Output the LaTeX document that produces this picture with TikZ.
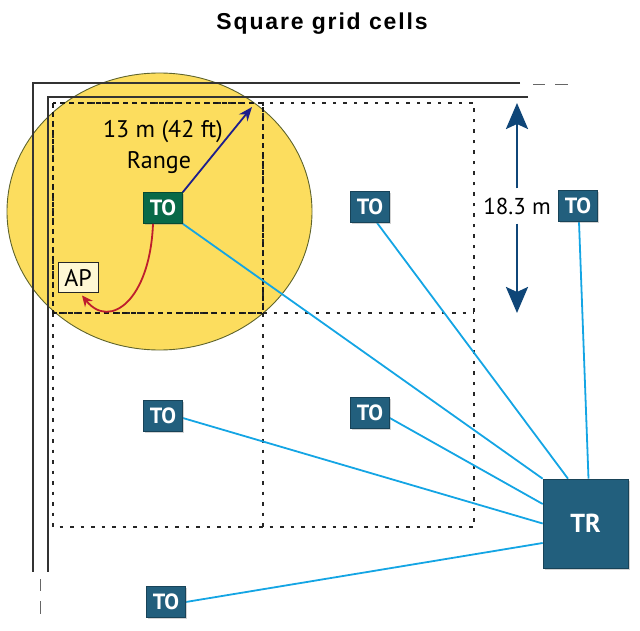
\documentclass[tikz,border=0pt]{standalone}
\usepackage{fontspec}
\setmainfont{PT Sans}
\newfontfamily\titlefont[LetterSpace=8]{Liberation Sans}
\usetikzlibrary{arrows.meta,shadows,calc}
\pgfdeclarelayer{bg}
\pgfsetlayers{bg,main}
\definecolor{cellyellow}{RGB}{252,221,94}
\definecolor{celledge}{RGB}{95,100,45}
\definecolor{togreen}{RGB}{8,105,72}
\definecolor{toblue}{RGB}{34,95,125}
\definecolor{linkblue}{RGB}{20,165,228}
\definecolor{rangeblue}{RGB}{30,30,140}
\definecolor{dimblue}{RGB}{15,70,120}
\definecolor{apred}{RGB}{190,30,45}
\definecolor{apfill}{RGB}{255,248,212}
\begin{document}
\begin{tikzpicture}[x=1pt,y=-1pt,
  wall/.style={line width=1.4pt, draw=black!80},
  griddash/.style={line width=1.3pt, draw=black!85, dash pattern=on 3.5pt off 7pt},
  cellbold/.style={line width=1.8pt, draw=black!90, dash pattern=on 5pt off 4pt},
  boxbase/.style={rectangle, inner sep=0pt, text=white,
    drop shadow={shadow xshift=1.5pt, shadow yshift=-1.5pt, opacity=0.35}},
  tobox/.style={boxbase, fill=toblue, draw=toblue!70!black, line width=0.6pt,
    minimum width=39pt, minimum height=31pt, font=\bfseries\fontsize{22}{22}\selectfont},
  togbox/.style={tobox, fill=togreen, draw=togreen!70!black},
  trbox/.style={boxbase, fill=toblue, draw=toblue!70!black, line width=0.6pt,
    minimum width=85pt, minimum height=89pt, font=\bfseries\fontsize{26}{26}\selectfont},
  apbox/.style={rectangle, inner sep=0pt, fill=apfill, draw=black!85, line width=1pt,
    minimum width=40pt, minimum height=29pt, font=\fontsize{24}{24}\selectfont},
  lbl/.style={inner sep=0pt, font=\fontsize{23}{23}\selectfont},
  link/.style={draw=linkblue, line width=1.8pt},
  rangearrow/.style={draw=rangeblue, line width=1.8pt, -{Stealth[length=14pt,width=11pt]}},
  apparrow/.style={draw=apred, line width=1.8pt, -{Stealth[length=11pt,width=10pt]}},
  dimarrow/.style={draw=dimblue, line width=2.8pt, -{Stealth[length=26pt,width=22pt,inset=5pt]}}
]
\useasboundingbox (0,0) rectangle (640,631);

% title
\node[inner sep=0pt, font=\titlefont\bfseries\fontsize{23}{23}\selectfont] (title) at (322,24) {Square grid cells};

\begin{pgfonlayer}{bg}
% coverage ellipse
\draw[fill=cellyellow, draw=celledge, line width=0.9pt] (159.5,211.5) ellipse [x radius=152.5, y radius=138.5];
% walls
\draw[wall] (520,83) -- (33,83) -- (33,572);
\draw[wall] (528,97) -- (48,97) -- (48,572);
\draw[wall, line width=1pt, draw=black!60] (533,85) -- (545,85) (555,85) -- (568,85);
\draw[wall, line width=1pt, draw=black!60] (40,579) -- (40,591) (40,601) -- (40,614);
% grid cells
\draw[griddash] (53,103) rectangle (474,527);
\draw[griddash] (263,103) -- (263,527);
\draw[griddash] (53,313) -- (474,313);
\draw[cellbold] (53,103) rectangle (263,313);
\end{pgfonlayer}

% nodes
\node[togbox] (toG) at (163,208) {TO};
\node[tobox] (toA) at (370,207) {TO};
\node[tobox] (toB) at (578,206) {TO};
\node[tobox] (toC) at (163,416) {TO};
\node[tobox] (toD) at (370,413) {TO};
\node[tobox] (toE) at (166,602) {TO};
\node[trbox] (TR) at (585.5,523.5) {TR};
\node[apbox] (ap) at (78,277.5) {AP};

% links to TR (behind the boxes)
\begin{pgfonlayer}{bg}
\draw[link] (toG.south east) -- (TR.north west);
\draw[link] ([xshift=7pt]toA.south) -- ([xshift=-17.5pt]TR.north);
\draw[link] ([xshift=1pt]toB.south) -- ([xshift=3pt]TR.north);
\draw[link] ([yshift=-2pt]toC.east) -- (TR.west);
\draw[link] ([yshift=-5pt]toD.east) -- ([yshift=19.5pt]TR.west);
\draw[link] (toE.east) -- ([yshift=-19.5pt]TR.west);
\end{pgfonlayer}

% range arrow and label
\coordinate (rangeEnd) at (252,107);
\draw[rangearrow] (toG.north east) -- (rangeEnd);
\node[lbl, font=\fontsize{24}{24}\selectfont] (rangeA) at (163,132) {13 m (42 ft)};
\node[lbl, font=\fontsize{24}{24}\selectfont] (rangeB) at (159,163) {Range};

% AP arrow
\coordinate (apTip) at ($(ap.south)+(4,3)$);
\draw[apparrow] ([xshift=-10pt]toG.south) .. controls (150,300) and (110,330) .. (apTip);

% dimension
\node[lbl, minimum height=35pt] (dim) at (517,206) {18.3 m};
\coordinate (dimTop) at (517,103);
\coordinate (dimBot) at (517,313);
\draw[dimarrow] (dim.north) -- (dimTop);
\draw[dimarrow] (dim.south) -- (dimBot);
\end{tikzpicture}
\end{document}
